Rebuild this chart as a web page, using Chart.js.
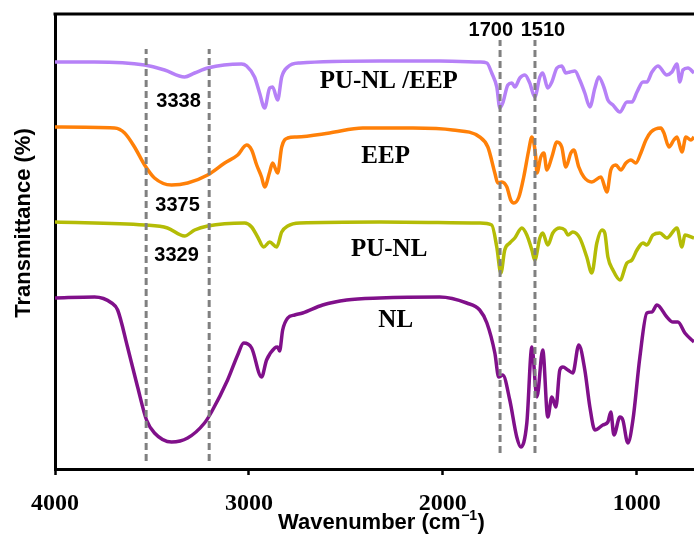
<!DOCTYPE html>
<html>
<head>
<meta charset="utf-8">
<title>FTIR spectra</title>
<script src="https://cdn.jsdelivr.net/npm/chart.js@4.4.0/dist/chart.umd.min.js"></script>
<style>
  html, body { margin: 0; padding: 0; background: #fff; }
</style>
</head>
<body>
<canvas id="ftir" width="694" height="537"></canvas>
<script>
// wavenumbers (cm-1) and offset transmittance (a.u.)
var punlEepWn = [4000, 3796, 3538, 3435, 3332, 3280, 3213, 3038, 3012, 2971, 2945, 2919, 2893, 2878, 2852, 2831, 2800, 2738, 2326, 2016, 1810, 1773, 1748, 1722, 1706, 1691, 1665, 1644, 1629, 1603, 1577, 1552, 1526, 1500, 1485, 1459, 1438, 1412, 1387, 1366, 1345, 1319, 1294, 1268, 1242, 1216, 1196, 1170, 1149, 1123, 1087, 1051, 1025, 999, 968, 948, 922, 891, 845, 819, 793, 778, 762, 736, 705];
var punlEepT  = [407, 407, 404, 399, 392, 396, 401, 405, 403, 392, 376, 361, 381, 382, 369, 392, 402, 406, 408, 408, 407, 406, 396, 382, 361, 366, 384, 386, 382, 391, 394, 386, 372, 392, 396, 381, 387, 401, 403, 396, 397, 398, 389, 376, 362, 381, 392, 382, 369, 364, 357, 367, 367, 377, 387, 387, 397, 403, 394, 397, 405, 387, 399, 401, 396];

var eepWn = [4000, 3693, 3641, 3590, 3538, 3487, 3399, 3316, 3213, 3125, 3058, 3012, 2986, 2960, 2935, 2919, 2893, 2878, 2852, 2831, 2800, 2754, 2584, 2413, 2155, 1949, 1810, 1768, 1732, 1717, 1696, 1670, 1650, 1634, 1608, 1583, 1557, 1541, 1521, 1515, 1495, 1479, 1464, 1438, 1412, 1387, 1366, 1340, 1325, 1299, 1273, 1232, 1185, 1154, 1134, 1108, 1082, 1056, 1030, 1005, 979, 953, 927, 876, 860, 834, 809, 793, 767, 747, 721, 705];
var eepT  = [342, 341, 336, 322, 304, 291, 284, 286, 294, 306, 314, 324, 319, 304, 292, 282, 297, 306, 296, 322, 331, 332, 336, 341, 341, 339, 332, 322, 296, 286, 287, 282, 269, 266, 272, 292, 319, 332, 312, 296, 312, 316, 299, 312, 327, 322, 302, 316, 319, 302, 292, 287, 292, 277, 299, 304, 299, 306, 309, 306, 316, 329, 337, 341, 336, 322, 329, 332, 317, 332, 329, 332];

var punlWn = [4000, 3538, 3420, 3332, 3280, 3213, 3022, 2986, 2955, 2924, 2893, 2857, 2831, 2800, 2738, 2326, 1810, 1748, 1722, 1701, 1681, 1655, 1629, 1593, 1567, 1541, 1526, 1500, 1485, 1459, 1433, 1397, 1371, 1355, 1330, 1294, 1258, 1232, 1206, 1180, 1165, 1149, 1123, 1087, 1051, 1025, 999, 968, 948, 917, 881, 845, 793, 767, 752, 705];
var punlT  = [247, 244, 241, 233, 239, 243, 246, 242, 232, 222, 227, 222, 237, 243, 246, 247, 246, 244, 222, 196, 219, 226, 231, 241, 234, 219, 209, 231, 236, 224, 236, 241, 239, 234, 237, 231, 212, 196, 226, 239, 236, 212, 199, 189, 206, 209, 219, 226, 224, 234, 236, 231, 241, 222, 234, 231];

var nlWn = [4000, 3796, 3708, 3677, 3626, 3574, 3528, 3487, 3399, 3316, 3229, 3193, 3110, 3058, 3027, 2986, 2935, 2909, 2867, 2852, 2842, 2826, 2800, 2764, 2723, 2620, 2496, 2326, 2016, 1877, 1810, 1773, 1732, 1712, 1691, 1655, 1619, 1598, 1567, 1541, 1515, 1485, 1459, 1438, 1417, 1397, 1381, 1355, 1330, 1299, 1268, 1242, 1216, 1175, 1149, 1134, 1118, 1087, 1072, 1046, 1020, 984, 948, 922, 896, 845, 814, 788, 752, 705];
var nlT  = [171, 172, 166, 159, 122, 82, 49, 36, 27, 31, 46, 57, 89, 114, 126, 121, 92, 109, 121, 122, 118, 139, 151, 154, 156, 164, 169, 171, 172, 166, 159, 146, 116, 92, 94, 69, 32, 22, 46, 122, 72, 119, 52, 72, 62, 99, 102, 99, 96, 124, 99, 62, 39, 44, 47, 57, 34, 52, 49, 26, 49, 112, 156, 157, 164, 152, 147, 147, 136, 127];

// marked bands (dashed guides)
var bandWn  = [3530, 3205, 1705, 1525];
var bandTop = [420, 420, 429, 429];
var bandBot = [8, 8, 16, 16];

var xTicks = [4000, 3000, 2000, 1000];

var seriesNames  = ['PU-NL /EEP', 'EEP', 'PU-NL', 'NL'];
var seriesColors = ['#b681f7', '#ff8008', '#b4bc06', '#80108a'];

function pts(xs, ys) {
  return xs.map(function (x, i) { return { x: x, y: ys[i] }; });
}

var datasets = [];
bandWn.forEach(function (w, i) {
  datasets.push({
    label: 'band ' + w,
    data: [{ x: w, y: bandBot[i] }, { x: w, y: bandTop[i] }],
    borderColor: '#808080',
    borderWidth: 3,
    borderDash: [7, 4],
    order: 0
  });
});
[[punlEepWn, punlEepT], [eepWn, eepT], [punlWn, punlT], [nlWn, nlT]].forEach(function (s, i) {
  datasets.push({
    label: seriesNames[i],
    data: pts(s[0], s[1]),
    borderColor: seriesColors[i],
    borderWidth: 3.5,
    cubicInterpolationMode: 'monotone',
    order: 1
  });
});

// text placed on the plot (wavenumber, value)
var notes = [
  { t: 'PU-NL /EEP', x: 2279, y: 387, serif: true },
  { t: 'EEP',        x: 2295, y: 312, serif: true },
  { t: 'PU-NL',      x: 2277, y: 219, serif: true },
  { t: 'NL',         x: 2243, y: 148, serif: true },
  { t: '3338', x: 3363, y: 368 },
  { t: '3375', x: 3368, y: 264 },
  { t: '3329', x: 3373, y: 214 },
  { t: '1700', x: 1753, y: 439 },
  { t: '1510', x: 1484, y: 439 }
];

var decor = {
  id: 'decor',
  afterDatasetsDraw: function (chart) {
    var ctx = chart.ctx, xs = chart.scales.x, ys = chart.scales.y, a = chart.chartArea;
    ctx.save();
    // top frame line
    ctx.strokeStyle = '#000';
    ctx.lineWidth = 3;
    ctx.beginPath();
    ctx.moveTo(a.left - 1.5, a.top);
    ctx.lineTo(chart.width, a.top);
    ctx.stroke();

    ctx.fillStyle = '#000';
    ctx.textAlign = 'center';
    ctx.textBaseline = 'middle';
    notes.forEach(function (n) {
      ctx.font = n.serif ? 'bold 25px "Liberation Serif", "Times New Roman", serif'
                         : 'bold 20px "Liberation Sans", Arial, sans-serif';
      ctx.fillText(n.t, xs.getPixelForValue(n.x), ys.getPixelForValue(n.y));
    });

    // axis titles
    ctx.font = 'bold 22px "Liberation Sans", Arial, sans-serif';
    var main = 'Wavenumber (cm', sup = '\u22121', end = ')';
    var w1 = ctx.measureText(main).width, w3 = ctx.measureText(end).width;
    ctx.font = 'bold 14px "Liberation Sans", Arial, sans-serif';
    var w2 = ctx.measureText(sup).width;
    var x0 = 381 - (w1 + w2 + w3) / 2, base = 529;
    ctx.textAlign = 'left';
    ctx.textBaseline = 'alphabetic';
    ctx.font = 'bold 22px "Liberation Sans", Arial, sans-serif';
    ctx.fillText(main, x0, base);
    ctx.fillText(end, x0 + w1 + w2 + 1, base);
    ctx.font = 'bold 14px "Liberation Sans", Arial, sans-serif';
    ctx.fillText(sup, x0 + w1 + 0.5, base - 9);

    ctx.translate(24, 223);
    ctx.rotate(-Math.PI / 2);
    ctx.textAlign = 'center';
    ctx.textBaseline = 'middle';
    ctx.font = 'bold 22px "Liberation Sans", Arial, sans-serif';
    ctx.fillText('Transmittance (%)', 0, 0);
    ctx.restore();
  }
};

new Chart(document.getElementById('ftir'), {
  type: 'line',
  data: { datasets: datasets },
  plugins: [decor],
  options: {
    responsive: false,
    animation: false,
    layout: { padding: { top: 14, left: 0, right: 0, bottom: 0 } },
    plugins: { legend: { display: false }, tooltip: { enabled: false } },
    elements: { point: { radius: 0 } },
    scales: {
      x: {
        type: 'linear',
        reverse: true,
        min: 705,
        max: 4000,
        afterBuildTicks: function (s) { s.ticks = xTicks.map(function (v) { return { value: v }; }); },
        afterFit: function (s) { s.height = 68; },
        grid: { drawOnChartArea: false, drawTicks: true, tickLength: 6, tickWidth: 2.5, tickColor: '#000' },
        border: { display: true, color: '#000', width: 3 },
        ticks: {
          color: '#000',
          autoSkip: false,
          maxRotation: 0,
          padding: 14,
          callback: function (v) { return String(v); },
          font: { family: '"Liberation Serif", "Times New Roman", serif', size: 24, weight: 'bold' }
        }
      },
      y: {
        min: 0,
        max: 455,
        afterFit: function (s) { s.width = 55; },
        grid: { drawOnChartArea: false, drawTicks: false },
        border: { display: true, color: '#000', width: 3 },
        ticks: { display: false }
      }
    }
  }
});
</script>
</body>
</html>
